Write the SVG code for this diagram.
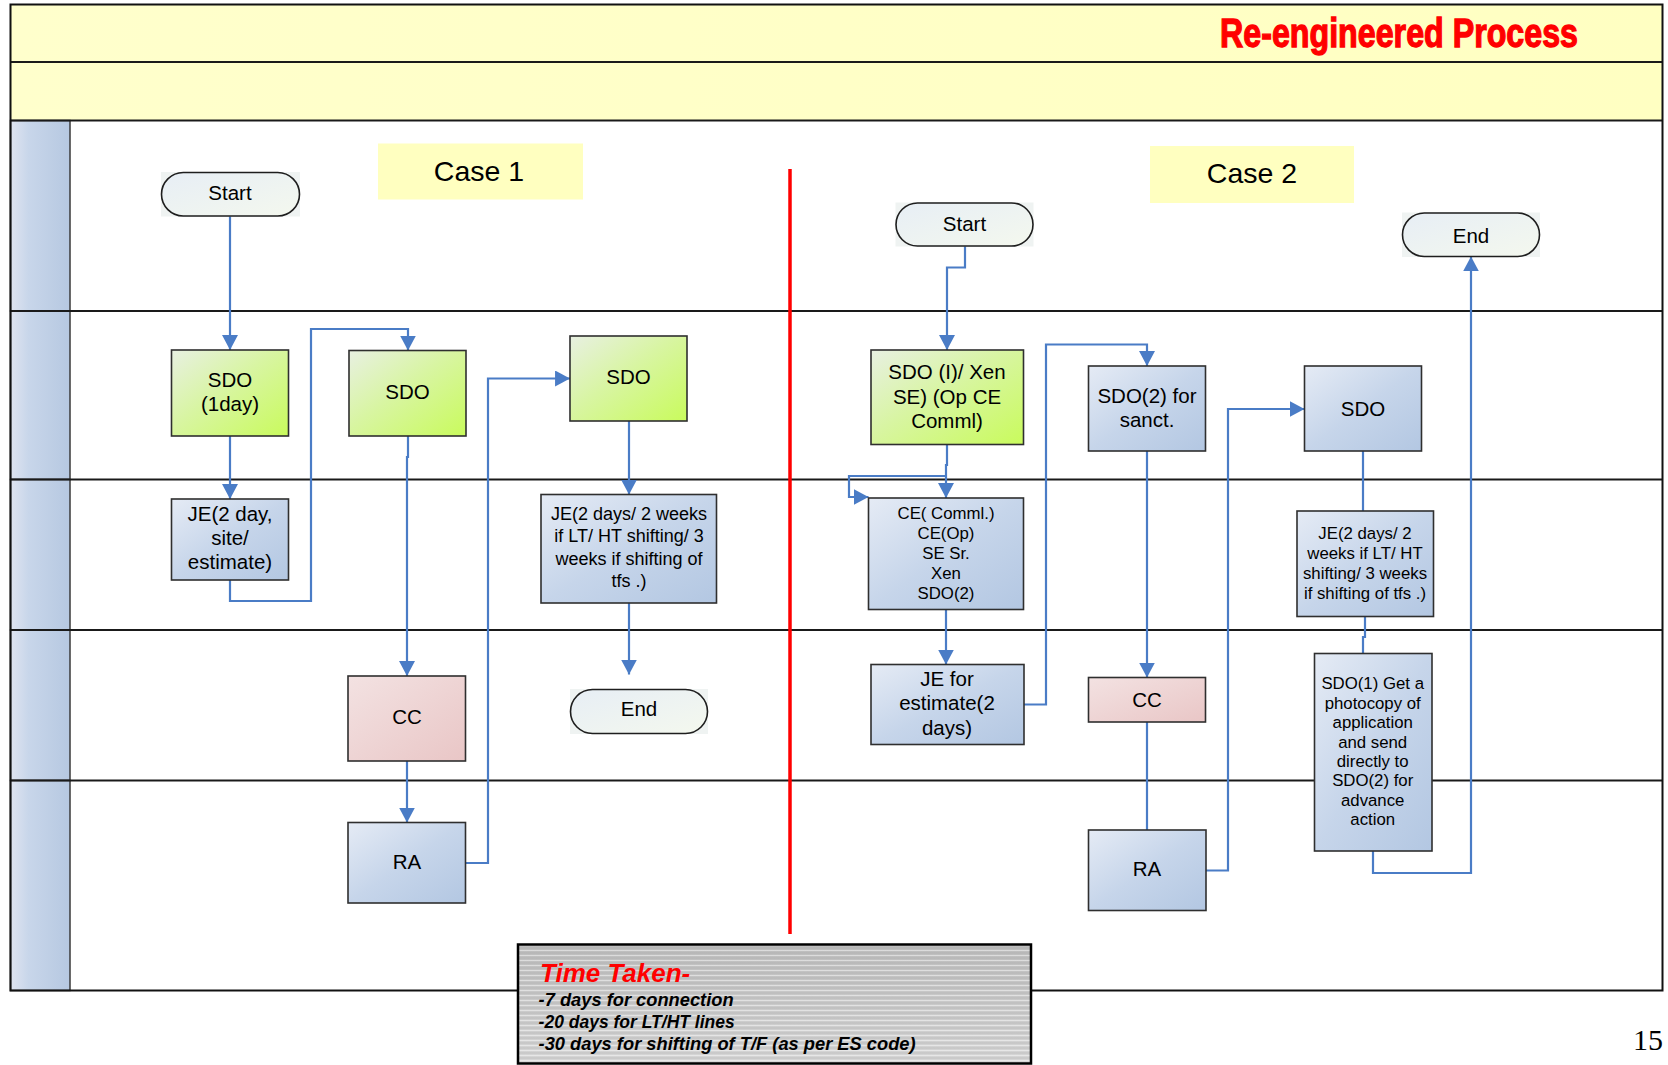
<svg xmlns="http://www.w3.org/2000/svg" width="1668" height="1065" viewBox="0 0 1668 1065">
  <defs>
    <linearGradient id="gBand" x1="0" y1="0" x2="1" y2="0">
      <stop offset="0" stop-color="#FFFFCC"/>
      <stop offset="1" stop-color="#FFFFC2"/>
    </linearGradient>
    <linearGradient id="gHead" x1="0" y1="0" x2="1" y2="0">
      <stop offset="0" stop-color="#DFE4F0"/>
      <stop offset="0.3" stop-color="#C8D6EA"/>
      <stop offset="1" stop-color="#B6C8E1"/>
    </linearGradient>
    <linearGradient id="gBlue" x1="0" y1="0" x2="1" y2="1">
      <stop offset="0" stop-color="#E5EBF5"/>
      <stop offset="0.5" stop-color="#C6D5EA"/>
      <stop offset="1" stop-color="#B3C7E2"/>
    </linearGradient>
    <linearGradient id="gGreen" x1="0" y1="0" x2="1" y2="1">
      <stop offset="0" stop-color="#E8F0E2"/>
      <stop offset="0.45" stop-color="#D8F5A2"/>
      <stop offset="1" stop-color="#C9FB5C"/>
    </linearGradient>
    <linearGradient id="gPink" x1="0" y1="0" x2="1" y2="1">
      <stop offset="0" stop-color="#F3E2E2"/>
      <stop offset="1" stop-color="#E9C6C6"/>
    </linearGradient>
    <linearGradient id="gTerm" x1="0" y1="0" x2="1" y2="1">
      <stop offset="0" stop-color="#E7EEF5"/>
      <stop offset="1" stop-color="#F4F8EE"/>
    </linearGradient>
    <linearGradient id="gSteel" x1="0" y1="0" x2="0" y2="1">
      <stop offset="0" stop-color="#BDBDBD"/>
      <stop offset="1" stop-color="#D6D6D6"/>
    </linearGradient>
    <pattern id="stripes" patternUnits="userSpaceOnUse" width="10" height="5">
      <rect x="0" y="0" width="10" height="1" fill="#FFFFFF" fill-opacity="0.45"/>
      <rect x="0" y="2.5" width="10" height="1" fill="#9A9A9A" fill-opacity="0.35"/>
    </pattern>
    <marker id="arrow" markerUnits="userSpaceOnUse" markerWidth="15" markerHeight="16" viewBox="0 0 14 15" refX="14" refY="7.5" orient="auto">
      <path d="M0,0 L14,7.5 L0,15 z" fill="#4A7CC6"/>
    </marker>
  </defs>

  <style>
    .lbl { font-family: "Liberation Sans", Arial, sans-serif; fill: #000; text-anchor: middle; }
    .f20 { font-size: 20.5px; }
    .f18 { font-size: 18px; }
    .f17 { font-size: 16.8px; }
    .box { stroke: #2F2F2F; stroke-width: 1.6; }
    .blue { fill: url(#gBlue); }
    .green { fill: url(#gGreen); }
    .pink { fill: url(#gPink); }
    .term { fill: url(#gTerm); stroke: #1E1E1E; stroke-width: 1.6; }
    .termbg { fill: #EFF3F2; }
    .conn { fill: none; stroke: #4A7CC6; stroke-width: 2.2; }
    .lane { stroke: #1A1A1A; stroke-width: 2; }
    .head { fill: url(#gHead); stroke: #3A3A3A; stroke-width: 1.5; }
    .case { fill: #FFFFC0; }
    .caseTxt { font-family: "Liberation Sans", Arial, sans-serif; font-size: 28.5px; fill: #000; text-anchor: middle; }
    .note { font-family: "Liberation Sans", Arial, sans-serif; font-weight: bold; font-style: italic; fill: #000; font-size: 17.5px; }
  </style>

  <!-- swimlane frame -->
  <g id="frame">
    <rect x="10.5" y="4.5" width="1652" height="986" fill="#FFFFFF"/>
    <rect x="10.5" y="4.5" width="1652" height="57.5" fill="url(#gBand)"/>
    <rect x="10.5" y="62" width="1652" height="58.5" fill="url(#gBand)"/>
    <rect x="10.5" y="120.5" width="59.5" height="190.5" class="head"/>
    <rect x="10.5" y="311" width="59.5" height="168.5" class="head"/>
    <rect x="10.5" y="479.5" width="59.5" height="150.5" class="head"/>
    <rect x="10.5" y="630" width="59.5" height="150.5" class="head"/>
    <rect x="10.5" y="780.5" width="59.5" height="210" class="head"/>
    <line x1="10.5" y1="62" x2="1662.5" y2="62" class="lane"/>
    <line x1="10.5" y1="120.5" x2="1662.5" y2="120.5" class="lane"/>
    <line x1="10.5" y1="311" x2="1662.5" y2="311" class="lane"/>
    <line x1="10.5" y1="479.5" x2="1662.5" y2="479.5" class="lane"/>
    <line x1="10.5" y1="630" x2="1662.5" y2="630" class="lane"/>
    <line x1="10.5" y1="780.5" x2="1662.5" y2="780.5" class="lane"/>
    <rect x="10.5" y="4.5" width="1652" height="986" fill="none" stroke="#111" stroke-width="2"/>
    <text x="1220" y="46.5" font-family="'Liberation Sans Narrow', 'Liberation Sans', Arial, sans-serif" font-weight="bold" font-size="40" fill="#FF0000" stroke="#FF0000" stroke-width="1.3" textLength="358" lengthAdjust="spacingAndGlyphs">Re-engineered Process</text>
    <line x1="790" y1="169" x2="790" y2="934" stroke="#FF0000" stroke-width="3.5"/>
  </g>

  <!-- case captions -->
  <g id="case1">
    <rect x="378" y="143.5" width="205" height="56" class="case"/>
    <text x="479" y="180.7" class="caseTxt">Case 1</text>
  </g>
  <g id="case2">
    <rect x="1150" y="146" width="204" height="57" class="case"/>
    <text x="1252" y="183" class="caseTxt">Case 2</text>
  </g>

  <!-- connectors -->
  <g id="connectors">
    <path class="conn" d="M230,216 V350" marker-end="url(#arrow)"/>
    <path class="conn" d="M230,436 V499" marker-end="url(#arrow)"/>
    <path class="conn" d="M230,580 V601 H311 V329 H408 V350.5" marker-end="url(#arrow)"/>
    <path class="conn" d="M408,436 V457 H407 V676" marker-end="url(#arrow)"/>
    <path class="conn" d="M407,761 V822.5" marker-end="url(#arrow)"/>
    <path class="conn" d="M465.5,863 H488 V378.5 H570" marker-end="url(#arrow)"/>
    <path class="conn" d="M629,421 V494.5" marker-end="url(#arrow)"/>
    <path class="conn" d="M629,603 V674.5" marker-end="url(#arrow)"/>

    <path class="conn" d="M965,246 V267.5 H947 V350" marker-end="url(#arrow)"/>
    <path class="conn" d="M947,444.5 V465 H946 V498" marker-end="url(#arrow)"/>
    <path class="conn" d="M946.5,476 H849 V497 H868.5" marker-end="url(#arrow)"/>
    <path class="conn" d="M946,609.5 V664.5" stroke-width="3" marker-end="url(#arrow)"/>
    <path class="conn" d="M1024,704.5 H1046 V344.5 H1147 V366" marker-end="url(#arrow)"/>
    <path class="conn" d="M1147,451 V677.5" marker-end="url(#arrow)"/>
    <path class="conn" d="M1147,722 V830"/>
    <path class="conn" d="M1206,870.5 H1228 V409 H1304.5" marker-end="url(#arrow)"/>
    <path class="conn" d="M1363,451 V511"/>
    <path class="conn" d="M1365,616.5 V637 H1363 V653.5"/>
    <path class="conn" d="M1373,851 V873 H1471 V256.5" marker-end="url(#arrow)"/>
  </g>

  <!-- Case 1 nodes -->
  <g id="start1">
    <rect x="161" y="172" width="139" height="44.5" class="termbg"/>
    <rect x="161.5" y="172.5" width="138" height="43.5" rx="21.75" class="term"/>
    <text x="230" y="200.3" class="lbl f20">Start</text>
  </g>
  <g id="sdo1">
    <rect x="171.5" y="350" width="117" height="86" class="box green"/>
    <text x="230" y="386.7" class="lbl f20">SDO</text>
    <text x="230" y="411" class="lbl f20">(1day)</text>
  </g>
  <g id="je1">
    <rect x="171.5" y="499" width="117" height="81" class="box blue"/>
    <text x="230" y="520.7" class="lbl f20">JE(2 day,</text>
    <text x="230" y="545" class="lbl f20">site/</text>
    <text x="230" y="569.3" class="lbl f20">estimate)</text>
  </g>
  <g id="sdo2">
    <rect x="349" y="350.5" width="117" height="85.5" class="box green"/>
    <text x="407.5" y="398.7" class="lbl f20">SDO</text>
  </g>
  <g id="cc1">
    <rect x="348" y="676" width="117.5" height="85" class="box pink"/>
    <text x="407" y="724" class="lbl f20">CC</text>
  </g>
  <g id="ra1">
    <rect x="348" y="822.5" width="117.5" height="80.5" class="box blue"/>
    <text x="407" y="868.7" class="lbl f20">RA</text>
  </g>
  <g id="sdo3">
    <rect x="570" y="336" width="117" height="85" class="box green"/>
    <text x="628.5" y="384.3" class="lbl f20">SDO</text>
  </g>
  <g id="je3">
    <rect x="541" y="494.5" width="175.5" height="108.5" class="box blue"/>
    <text x="629" y="520" class="lbl f18">JE(2 days/ 2 weeks</text>
    <text x="629" y="542.3" class="lbl f18">if LT/ HT shifting/ 3</text>
    <text x="629" y="564.5" class="lbl f18">weeks if shifting of</text>
    <text x="629" y="586.5" class="lbl f18">tfs .)</text>
  </g>
  <g id="end1">
    <rect x="570" y="689" width="138" height="45" class="termbg"/>
    <rect x="570.5" y="689.5" width="137" height="44" rx="22" class="term"/>
    <text x="639" y="716" class="lbl f20">End</text>
  </g>

  <!-- Case 2 nodes -->
  <g id="start2">
    <rect x="895.5" y="202.5" width="138" height="44" class="termbg"/>
    <rect x="896" y="203" width="137" height="43" rx="21.5" class="term"/>
    <text x="964.5" y="231" class="lbl f20">Start</text>
  </g>
  <g id="sdoI">
    <rect x="871" y="350" width="152.5" height="94.5" class="box green"/>
    <text x="947" y="379.3" class="lbl f20">SDO (I)/ Xen</text>
    <text x="947" y="403.6" class="lbl f20">SE) (Op CE</text>
    <text x="947" y="427.9" class="lbl f20">Comml)</text>
  </g>
  <g id="sdo2sanct">
    <rect x="1088.5" y="366" width="117" height="85" class="box blue"/>
    <text x="1147" y="402.7" class="lbl f20">SDO(2) for</text>
    <text x="1147" y="426.7" class="lbl f20">sanct.</text>
  </g>
  <g id="ce">
    <rect x="868.5" y="498" width="155" height="111.5" class="box blue"/>
    <text x="946" y="519.3" class="lbl f17">CE( Comml.)</text>
    <text x="946" y="539.3" class="lbl f17">CE(Op)</text>
    <text x="946" y="559.3" class="lbl f17">SE Sr.</text>
    <text x="946" y="579.3" class="lbl f17">Xen</text>
    <text x="946" y="599.3" class="lbl f17">SDO(2)</text>
  </g>
  <g id="jeEstimate">
    <rect x="871" y="664.5" width="153" height="80" class="box blue"/>
    <text x="947" y="686" class="lbl f20">JE for</text>
    <text x="947" y="710.3" class="lbl f20">estimate(2</text>
    <text x="947" y="734.6" class="lbl f20">days)</text>
  </g>
  <g id="cc2">
    <rect x="1088.5" y="677.5" width="117" height="44.5" class="box pink"/>
    <text x="1147" y="706.7" class="lbl f20">CC</text>
  </g>
  <g id="ra2">
    <rect x="1088.5" y="830" width="117.5" height="80.5" class="box blue"/>
    <text x="1147" y="876" class="lbl f20">RA</text>
  </g>
  <g id="sdoR">
    <rect x="1304.5" y="366" width="117" height="85" class="box blue"/>
    <text x="1363" y="415.7" class="lbl f20">SDO</text>
  </g>
  <g id="end2">
    <rect x="1402" y="212.5" width="138" height="44.5" class="termbg"/>
    <rect x="1402.5" y="213" width="137" height="43.5" rx="21.75" class="term"/>
    <text x="1471" y="242.7" class="lbl f20">End</text>
  </g>
  <g id="jeR">
    <rect x="1297" y="511" width="136.5" height="105.5" class="box blue"/>
    <text x="1365" y="539" class="lbl f17">JE(2 days/ 2</text>
    <text x="1365" y="559.2" class="lbl f17">weeks if LT/ HT</text>
    <text x="1365" y="579.2" class="lbl f17">shifting/ 3 weeks</text>
    <text x="1365" y="599" class="lbl f17">if shifting of tfs .)</text>
  </g>
  <g id="sdo1Photocopy">
    <rect x="1314.5" y="653.5" width="117.5" height="197.5" class="box blue"/>
    <text x="1372.7" y="689.3" class="lbl f17">SDO(1) Get a</text>
    <text x="1372.7" y="708.7" class="lbl f17">photocopy of</text>
    <text x="1372.7" y="728.1" class="lbl f17">application</text>
    <text x="1372.7" y="747.5" class="lbl f17">and send</text>
    <text x="1372.7" y="766.9" class="lbl f17">directly to</text>
    <text x="1372.7" y="786.3" class="lbl f17">SDO(2) for</text>
    <text x="1372.7" y="805.7" class="lbl f17">advance</text>
    <text x="1372.7" y="825.1" class="lbl f17">action</text>
  </g>

  <!-- timing summary panel -->
  <g id="timeTaken">
    <rect x="518" y="944.5" width="513" height="119" fill="url(#gSteel)"/>
    <rect x="518" y="944.5" width="513" height="119" fill="url(#stripes)"/>
    <rect x="518" y="944.5" width="513" height="119" fill="none" stroke="#000" stroke-width="2.5"/>
    <text x="540" y="981.7" font-family="'Liberation Sans', Arial, sans-serif" font-weight="bold" font-style="italic" font-size="26" fill="#FF0000">Time Taken-</text>
    <text x="538.6" y="1006" class="note" textLength="195" lengthAdjust="spacingAndGlyphs">-7 days for connection</text>
    <text x="538.6" y="1028" class="note">-20 days for LT/HT lines</text>
    <text x="538.6" y="1050" class="note" textLength="377" lengthAdjust="spacingAndGlyphs">-30 days for shifting of T/F (as per ES code)</text>
  </g>

  <text x="1633" y="1050" font-family="'Liberation Serif', 'Times New Roman', serif" font-size="30" fill="#000">15</text>
</svg>
